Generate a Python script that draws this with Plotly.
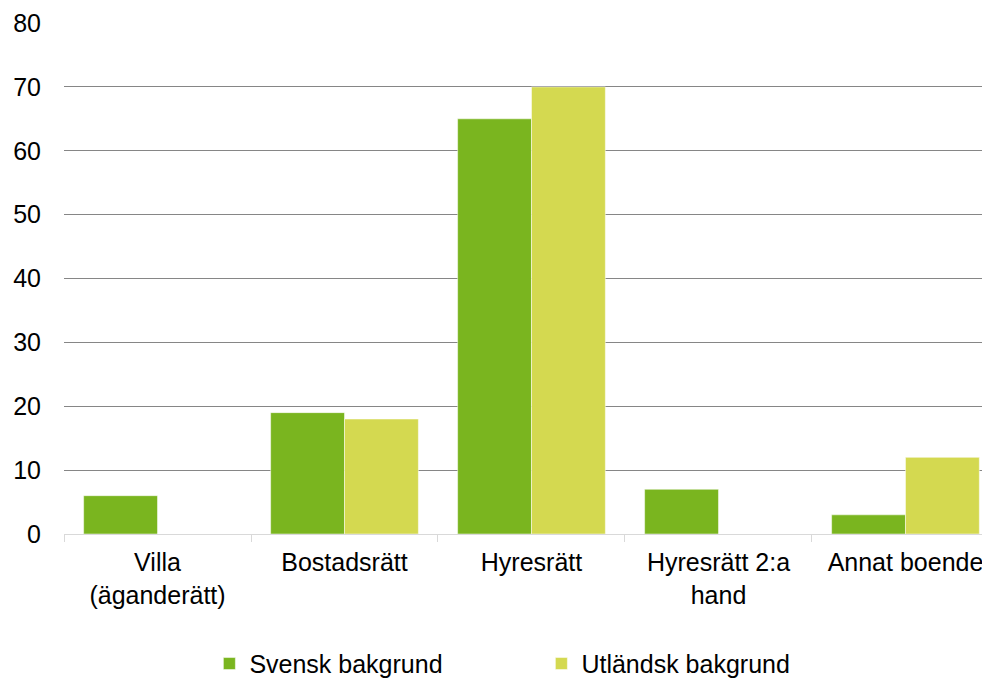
import plotly.graph_objects as go

KATEGORIER = ["Villa<br>(äganderätt)", "Bostadsrätt", "Hyresrätt", "Hyresrätt 2:a<br>hand", "Annat boende"]
SVENSK = [6, 19, 65, 7, 3]
UTLANDSK = [0, 18, 70, 0, 12]
Y_TICKS = [0, 10, 20, 30, 40, 50, 60, 70, 80]

GRON = "#7AB51F"
GUL = "#D4D950"

fig = go.Figure()
fig.add_trace(go.Bar(
    x=KATEGORIER, y=SVENSK, name="Svensk bakgrund",
    marker=dict(color=GRON, line=dict(color="white", width=0.5)),
))
fig.add_trace(go.Bar(
    x=KATEGORIER, y=UTLANDSK, name="Utländsk bakgrund",
    marker=dict(color=GUL, line=dict(color="white", width=0.5)),
))

# sidan har 8 px marginal i body, därför 982x674
fig.update_layout(
    width=982, height=674,
    plot_bgcolor="white", paper_bgcolor="white",
    font=dict(family="Liberation Sans, Arial, sans-serif", size=25, color="black"),
    barmode="group", bargap=0.21, bargroupgap=0,
    margin=dict(l=56, r=0, t=15, b=148, autoexpand=False),
    showlegend=True,
    legend=dict(
        orientation="h", x=0.157, xanchor="left", y=-0.254, yanchor="middle",
        entrywidth=287, itemwidth=30,
    ),
    xaxis=dict(
        range=[-0.5, 4.452], showgrid=False, showline=True, linecolor="#D9D9D9",
        linewidth=1, ticks="outside", tickson="boundaries", tickcolor="#D9D9D9",
        ticklen=7, ticklabelstandoff=6, fixedrange=True,
    ),
    yaxis=dict(
        range=[0, 80], tickvals=Y_TICKS, showgrid=True, gridcolor="#868686",
        gridwidth=1, zeroline=False, showline=False, ticks="", ticklabelstandoff=22,
    ),
)

fig.write_html("out.html")
